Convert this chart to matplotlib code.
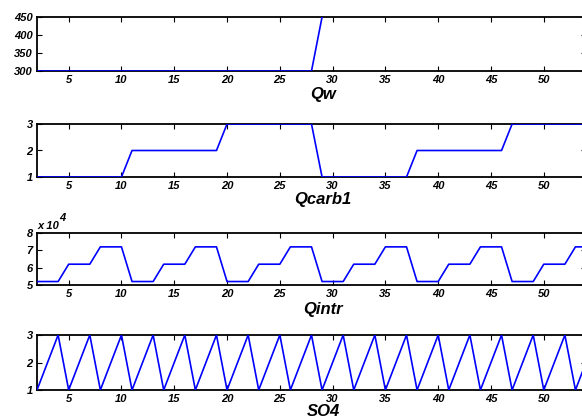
import numpy as np
import matplotlib
matplotlib.use('Agg')
import matplotlib.pyplot as plt
from matplotlib.ticker import FuncFormatter

plt.rcParams['font.family'] = 'Liberation Sans'

# time steps
t = np.arange(2, 55)

# data (Qw leaves the axis above 450 after t=29)
Qw = [300, 300, 300, 300, 300, 300, 300, 300, 300, 300, 300, 300, 300, 300,
      300, 300, 300, 300, 300, 300, 300, 300, 300, 300, 300, 300, 300,
      450, 600, 600, 600, 600, 600, 600, 600, 600, 600, 600, 600, 600,
      600, 600, 600, 600, 600, 600, 600, 600, 600, 600, 600, 600, 600]
Qcarb1 = [1, 1, 1, 1, 1, 1, 1, 1, 1,
          2, 2, 2, 2, 2, 2, 2, 2, 2,
          3, 3, 3, 3, 3, 3, 3, 3, 3,
          1, 1, 1, 1, 1, 1, 1, 1, 1,
          2, 2, 2, 2, 2, 2, 2, 2, 2,
          3, 3, 3, 3, 3, 3, 3, 3]
Qintr = [52000, 52000, 52000, 62000, 62000, 62000, 72000, 72000, 72000,
         52000, 52000, 52000, 62000, 62000, 62000, 72000, 72000, 72000,
         52000, 52000, 52000, 62000, 62000, 62000, 72000, 72000, 72000,
         52000, 52000, 52000, 62000, 62000, 62000, 72000, 72000, 72000,
         52000, 52000, 52000, 62000, 62000, 62000, 72000, 72000, 72000,
         52000, 52000, 52000, 62000, 62000, 62000, 72000, 72000]
SO4 = [1, 2, 3, 1, 2, 3, 1, 2, 3, 1, 2, 3, 1, 2, 3, 1, 2, 3,
       1, 2, 3, 1, 2, 3, 1, 2, 3, 1, 2, 3, 1, 2, 3, 1, 2, 3,
       1, 2, 3, 1, 2, 3, 1, 2, 3, 1, 2, 3, 1, 2, 3, 1, 2]

names = ['Qw', 'Qcarb1', 'Qintr', 'SO4']
series = [Qw, Qcarb1, Qintr, SO4]
ylims = [(300, 450), (1, 3), (50000, 80000), (1, 3)]
yticks = [[300, 350, 400, 450], [1, 2, 3], [50000, 60000, 70000, 80000], [1, 2, 3]]
xticks = [5, 10, 15, 20, 25, 30, 35, 40, 45, 50]

W, H = 582, 419
# axes boxes in pixels: top, bottom
boxes = [(17, 71), (124, 177), (233, 285), (335, 390)]
label_gap = [24, 22, 24, 21]
left, right = 37, 586

fig = plt.figure(figsize=(W / 100, H / 100), dpi=100)
tfont = dict(fontsize=8, fontweight='bold', fontstyle='italic')

for i in range(4):
    top, bot = boxes[i]
    ax = fig.add_axes([left / W, (H - bot) / H, (right - left) / W, (bot - top) / H])
    ax.plot(t, series[i], color='#0000ff', lw=1.2, zorder=5)
    ax.set_xlim(2, 54)
    ax.set_ylim(*ylims[i])
    ax.set_xticks(xticks)
    ax.set_yticks(yticks[i])
    if i == 2:
        ax.yaxis.set_major_formatter(FuncFormatter(lambda v, p: '%d' % round(v / 10000)))
    ax.tick_params(direction='in', top=True, right=True, length=3.5, width=0.8, pad=3)
    for lab in ax.get_xticklabels() + ax.get_yticklabels():
        lab.set_fontsize(8)
        lab.set_fontweight('bold')
        lab.set_fontstyle('italic')
    for s in ax.spines.values():
        s.set_linewidth(1.3)
        s.set_zorder(3)
    ax.set_xlabel(names[i], fontsize=12, fontweight='bold', fontstyle='italic', va='center')
    ax.xaxis.set_label_coords((323 - left) / (right - left), -label_gap[i] / (bot - top))

# exponent label of the Qintr axis
fig.text(37 / W, 1 - 226 / H, 'x 10', va='center', ha='left', **tfont)
fig.text(59 / W, 1 - 218 / H, '4', va='center', ha='left', **tfont)

fig.savefig('out.png', dpi=100)
